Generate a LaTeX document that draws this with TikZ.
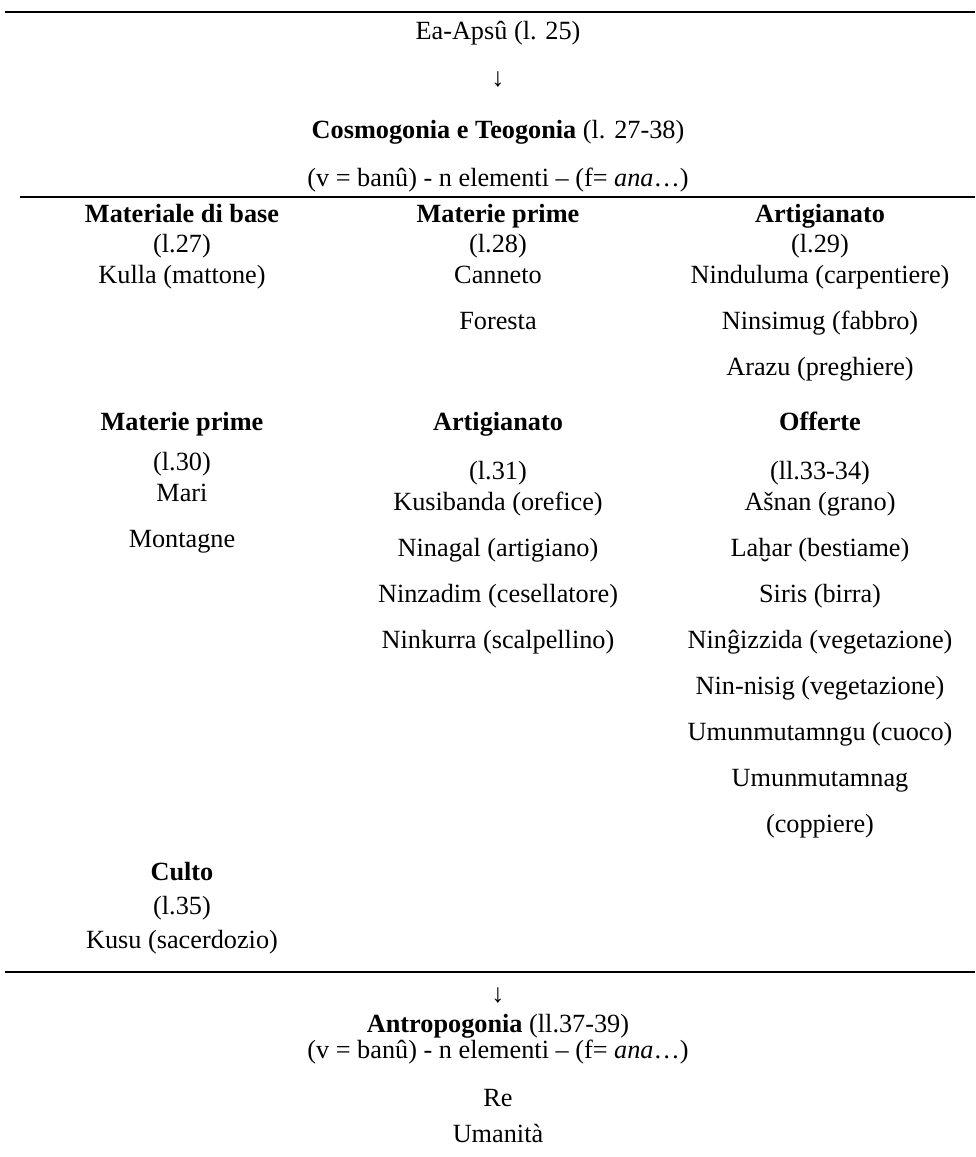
\documentclass[tikz,border=0pt]{standalone}
\usepackage{fontspec}
\setmainfont{Liberation Serif}
\usetikzlibrary{positioning}
\tikzstyle{voce} = [
inner sep=0pt, text height=14.2pt, text depth=4.3pt,
font=\fontsize{19.7pt}{23pt}\selectfont
]
\tikzstyle{capo} = [
voce, font=\fontsize{19.7pt}{23pt}\selectfont\bfseries
]
\tikzstyle{filetto} = [line width=1.8pt]

\begin{document}
\begin{tikzpicture}[x=0.75pt, y=-0.75pt, node distance=23pt]
	\useasboundingbox (0,0) rectangle (975,1157);
	% Filetti
	\coordinate (a1) at (5,12);
	\coordinate (a2) at (975,12);
	\coordinate (b1) at (20,197);
	\coordinate (b2) at (975,197);
	\coordinate (c1) at (5,972);
	\coordinate (c2) at (975,972);
	\draw [filetto] (a1) -- (a2);
	\draw [filetto] (b1) -- (b2);
	\draw [filetto] (c1) -- (c2);

	% Titolo
	\node (ea) [voce] at (498,32.4) {Ea-Apsû (l. 25)};
	\node (freccia_a) [voce] at (498,79.6) {↓};
	\node (cosmo) [voce] at (498,131.4) {\textbf{Cosmogonia e Teogonia} (l. 27-38)};
	\node (formula_a) [voce, below of=cosmo, yshift=-13.5pt] {(v = banû) - n elementi – (f= \textit{ana}…)};

	% Prima riga
	\node (materiale) [capo] at (182,215.4) {Materiale di base};
	\node (l27) [voce, below of=materiale] {(l.27)};
	\node (kulla) [voce, below of=l27] {Kulla (mattone)};

	\node (materie) [capo] at (498,215.4) {Materie prime};
	\node (l28) [voce, below of=materie] {(l.28)};
	\node (canneto) [voce, below of=l28] {Canneto};
	\node (foresta) [voce, below of=canneto, yshift=-11.5pt] {Foresta};

	\node (artig) [capo] at (820,215.4) {Artigianato};
	\node (l29) [voce, below of=artig] {(l.29)};
	\node (ninduluma) [voce, below of=l29] {Ninduluma (carpentiere)};
	\node (ninsimug) [voce, below of=ninduluma, yshift=-11.5pt] {Ninsimug (fabbro)};
	\node (arazu) [voce, below of=ninsimug, yshift=-11.5pt] {Arazu (preghiere)};

	% Seconda riga
	\node (materie_b) [capo] at (182,423.4) {Materie prime};
	\node (l30) [voce, below of=materie_b, yshift=-7.5pt] {(l.30)};
	\node (mari) [voce, below of=l30] {Mari};
	\node (montagne) [voce, below of=mari, yshift=-11.5pt] {Montagne};

	\node (artig_b) [capo] at (498,423.4) {Artigianato};
	\node (l31) [voce, below of=artig_b, yshift=-14pt] {(l.31)};
	\node (kusibanda) [voce, below of=l31] {Kusibanda (orefice)};
	\node (ninagal) [voce, below of=kusibanda, yshift=-11.5pt] {Ninagal (artigiano)};
	\node (ninzadim) [voce, below of=ninagal, yshift=-11.5pt] {Ninzadim (cesellatore)};
	\node (ninkurra) [voce, below of=ninzadim, yshift=-11.5pt] {Ninkurra (scalpellino)};

	\node (offerte) [capo] at (820,423.4) {Offerte};
	\node (l3334) [voce, below of=offerte, yshift=-14pt] {(ll.33-34)};
	\node (asnan) [voce, below of=l3334] {Ašnan (grano)};
	\node (lahar) [voce, below of=asnan, yshift=-11.5pt] {Laḫar (bestiame)};
	\node (siris) [voce, below of=lahar, yshift=-11.5pt] {Siris (birra)};
	\node (ningizzida) [voce, below of=siris, yshift=-11.5pt] {Ninĝizzida (vegetazione)};
	\node (ninnisig) [voce, below of=ningizzida, yshift=-11.5pt] {Nin-nisig (vegetazione)};
	\node (umunmutamngu) [voce, below of=ninnisig, yshift=-11.5pt] {Umunmutamngu (cuoco)};
	\node (umunmutamnag) [voce, below of=umunmutamngu, yshift=-11.5pt] {Umunmutamnag};
	\node (coppiere) [voce, below of=umunmutamnag, yshift=-11.5pt] {(coppiere)};

	% Terza riga
	\node (culto) [capo] at (182,873.4) {Culto};
	\node (l35) [voce, below of=culto, yshift=-2.5pt] {(l.35)};
	\node (kusu) [voce, below of=l35, yshift=-2.5pt] {Kusu (sacerdozio)};

	% Antropogonia
	\node (freccia_b) [voce] at (498,995.6) {↓};
	\node (antropo) [voce] at (498,1025.4) {\textbf{Antropogonia} (ll.37-39)};
	\node (formula_b) [voce, below of=antropo, yshift=3.5pt] {(v = banû) - n elementi – (f= \textit{ana}…)};
	\node (re) [voce, below of=formula_b, yshift=-13.5pt] {Re};
	\node (umanita) [voce, below of=re, yshift=-4pt] {Umanità};
\end{tikzpicture}
\end{document}
